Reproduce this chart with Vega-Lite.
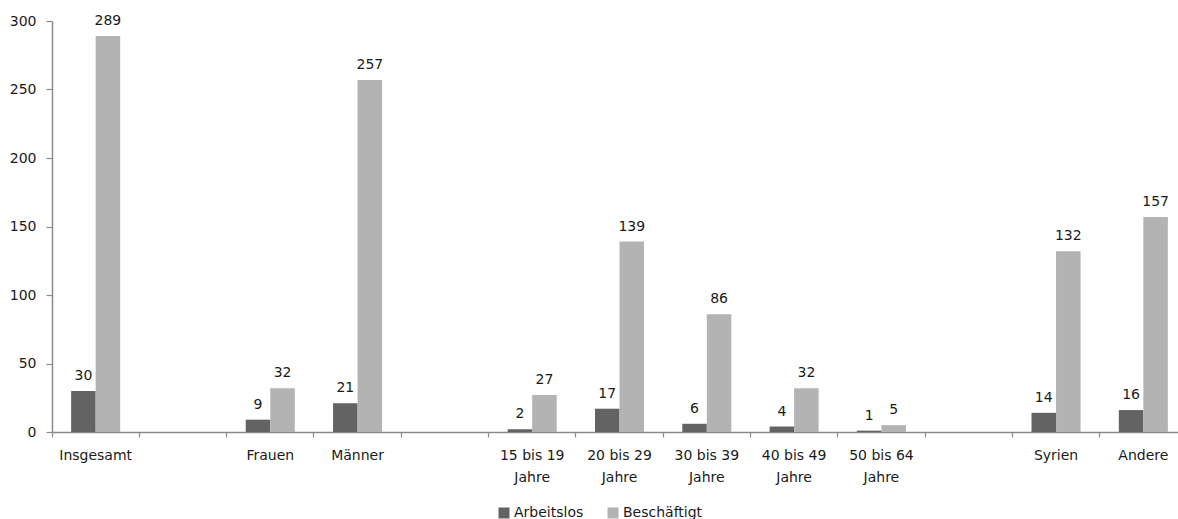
{
  "$schema": "https://vega.github.io/schema/vega-lite/v6.json",
  "autosize": "none",
  "width": 1135,
  "height": 411,
  "padding": {"left": 52, "top": 21, "right": 0, "bottom": 87},
  "background": "white",
  "config": {
    "view": {"stroke": null},
    "font": "DejaVu Sans",
    "axis": {"labelFont": "DejaVu Sans", "labelColor": "#1a1a1a", "labelFontSize": 14, "domainColor": "#8a8a8a", "tickColor": "#8a8a8a", "domainWidth": 1.5, "tickWidth": 1.2, "grid": false},
    "legend": {"labelFont": "DejaVu Sans", "labelFontSize": 14, "labelColor": "#1a1a1a"}
  },
  "data": {
    "values": [
      {"cat": "Insgesamt", "series": "Arbeitslos", "value": 30},
      {"cat": "Insgesamt", "series": "Beschäftigt", "value": 289},
      {"cat": "Frauen", "series": "Arbeitslos", "value": 9},
      {"cat": "Frauen", "series": "Beschäftigt", "value": 32},
      {"cat": "Männer", "series": "Arbeitslos", "value": 21},
      {"cat": "Männer", "series": "Beschäftigt", "value": 257},
      {"cat": "15 bis 19 Jahre", "series": "Arbeitslos", "value": 2},
      {"cat": "15 bis 19 Jahre", "series": "Beschäftigt", "value": 27},
      {"cat": "20 bis 29 Jahre", "series": "Arbeitslos", "value": 17},
      {"cat": "20 bis 29 Jahre", "series": "Beschäftigt", "value": 139},
      {"cat": "30 bis 39 Jahre", "series": "Arbeitslos", "value": 6},
      {"cat": "30 bis 39 Jahre", "series": "Beschäftigt", "value": 86},
      {"cat": "40 bis 49 Jahre", "series": "Arbeitslos", "value": 4},
      {"cat": "40 bis 49 Jahre", "series": "Beschäftigt", "value": 32},
      {"cat": "50 bis 64 Jahre", "series": "Arbeitslos", "value": 1},
      {"cat": "50 bis 64 Jahre", "series": "Beschäftigt", "value": 5},
      {"cat": "Syrien", "series": "Arbeitslos", "value": 14},
      {"cat": "Syrien", "series": "Beschäftigt", "value": 132},
      {"cat": "Andere", "series": "Arbeitslos", "value": 16},
      {"cat": "Andere", "series": "Beschäftigt", "value": 157}
    ]
  },
  "encoding": {
    "x": {
      "field": "cat",
      "type": "nominal",
      "title": null,
      "scale": {
        "domain": ["Insgesamt", "g1", "Frauen", "Männer", "g2", "15 bis 19 Jahre", "20 bis 29 Jahre", "30 bis 39 Jahre", "40 bis 49 Jahre", "50 bis 64 Jahre", "g3", "Syrien", "Andere"],
        "paddingInner": 0,
        "paddingOuter": 0
      },
      "axis": {
        "labelAngle": 0,
        "bandPosition": 0,
        "tickSize": 5,
        "labelPadding": 11,
        "labelLineHeight": 22,
        "labelExpr": "indexof(datum.value, 'Jahre') > 0 ? [replace(datum.value, ' Jahre', ''), 'Jahre'] : (length(datum.value) == 2 ? '' : datum.value)"
      }
    },
    "xOffset": {
      "field": "series",
      "type": "nominal",
      "scale": {"paddingInner": 0, "paddingOuter": 0.78}
    },
    "y": {
      "field": "value",
      "type": "quantitative",
      "title": null,
      "scale": {"domain": [0, 300], "nice": false},
      "axis": {"values": [0, 50, 100, 150, 200, 250, 300], "tickSize": 6, "labelPadding": 10}
    }
  },
  "layer": [
    {
      "mark": {"type": "bar"},
      "encoding": {
        "color": {
          "field": "series",
          "type": "nominal",
          "scale": {"domain": ["Arbeitslos", "Beschäftigt"], "range": ["#636363", "#b3b3b3"]},
          "legend": {
            "title": null,
            "orient": "none",
            "direction": "horizontal",
            "legendX": 445,
            "legendY": 485,
            "symbolType": "square",
            "symbolSize": 121,
            "labelOffset": 3,
            "columnPadding": 22
          }
        }
      }
    },
    {
      "mark": {"type": "text", "baseline": "bottom", "dy": -8, "fontSize": 14, "color": "#1a1a1a"},
      "encoding": {"text": {"field": "value", "type": "quantitative"}}
    }
  ]
}
